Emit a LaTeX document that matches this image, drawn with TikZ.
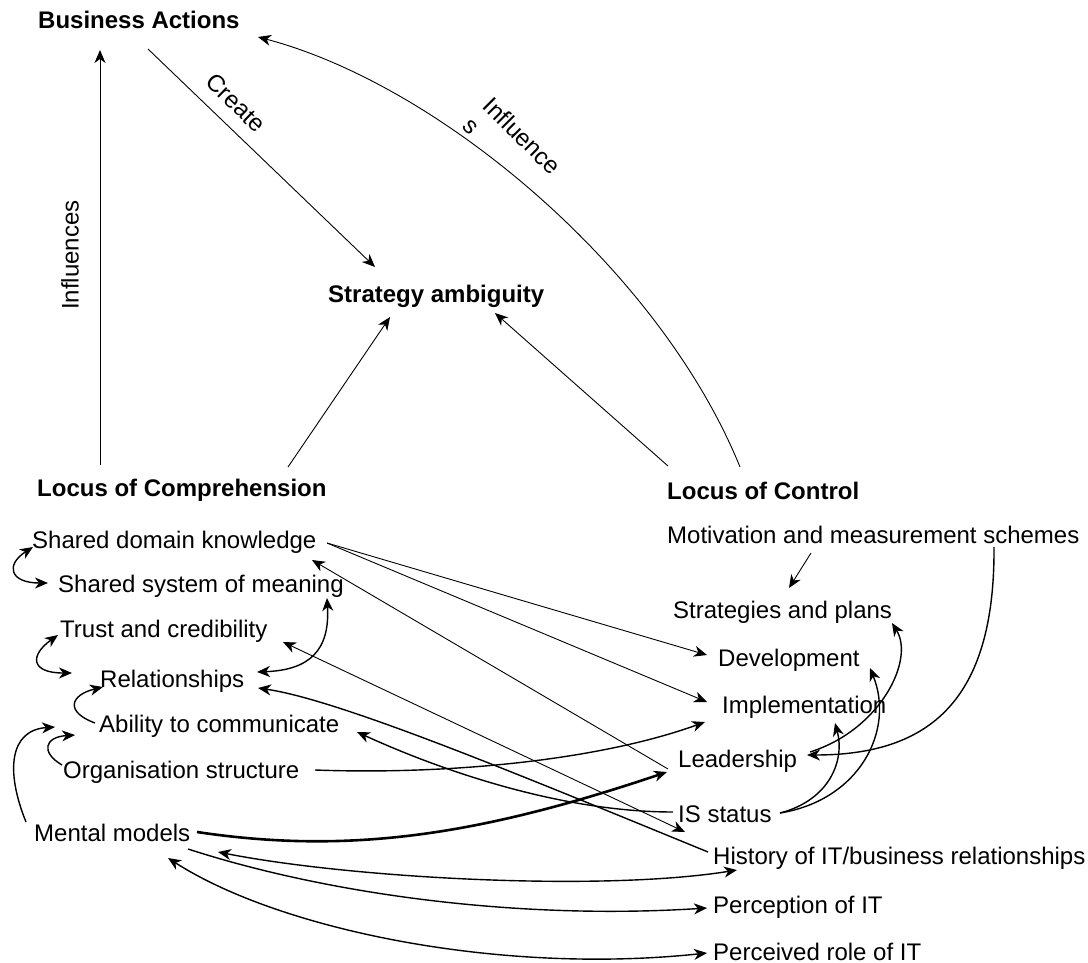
\documentclass[tikz,border=0pt]{standalone}
\usepackage{fontspec}
\setmainfont{Liberation Sans}
\usetikzlibrary{arrows.meta,calc}
\begin{document}
\begin{tikzpicture}[x=1pt,y=-1pt,
  lbl/.style={anchor=base west,inner sep=0pt,font=\fontsize{24}{28.8}\selectfont},
  hd/.style={anchor=base west,inner sep=0pt,font=\fontsize{24}{28.8}\selectfont\bfseries},
  rot/.style={inner sep=0pt,font=\fontsize{24}{28.8}\selectfont},
  arr/.style={-{Stealth[length=13pt,width=11pt,inset=4pt]}},
  darr/.style={{Stealth[length=13pt,width=11pt,inset=4pt]}-{Stealth[length=13pt,width=11pt,inset=4pt]}},
  thinl/.style={line width=0.9pt},
  med/.style={line width=1.4pt},
  heavy/.style={line width=2.6pt}
]
\fill[white] (0,0) rectangle (1088,963);
\useasboundingbox (0,0) rectangle (1088,963);

% nodes
\node[hd] (ba) at (38,29) {Business Actions};
\node[hd] (sa) at (328,302) {Strategy ambiguity};
\node[hd] (lcomp) at (37,496) {Locus of Comprehension};
\node[hd] (lctrl) at (667,499) {Locus of Control};
\node[lbl] (sdk) at (32,548) {Shared domain knowledge};
\node[lbl] (ssm) at (58,592) {Shared system of meaning};
\node[lbl] (trust) at (60,637) {Trust and credibility};
\node[lbl] (rel) at (100,687) {Relationships};
\node[lbl] (abil) at (99,732) {Ability to communicate};
\node[lbl] (org) at (63,778) {Organisation structure};
\node[lbl] (mm) at (34,841) {Mental models};
\node[lbl] (mot) at (667,543) {Motivation and measurement schemes};
\node[lbl] (sp) at (673,618) {Strategies and plans};
\node[lbl] (dev) at (718,666) {Development};
\node[lbl] (impl) at (722,713) {Implementation};
\node[lbl] (lead) at (678,767) {Leadership};
\node[lbl] (is) at (678,822) {IS status};
\node[lbl] (hist) at (713,864) {History of IT/business relationships};
\node[lbl] (perc) at (713,913) {Perception of IT};
\node[lbl] (role) at (713,960) {Perceived role of IT};

% labels
\node[rot,rotate=90] (l1) at (70,255) {Influences};
\node[rot,rotate=-44] (l2) at (236,103) {Create};
\node[rot,rotate=-45,align=left] (l3) at (512,146) {Influence\\s};

% top connectors
\draw[arr,thinl] ($(lcomp.base west)+(63,-31)$) -- ($(ba.base west)+(62,21)$);
\draw[arr,thinl] ($(ba.base west)+(110,20)$) -- ($(sa.base west)+(47,-35)$);
\draw[arr,thinl] ($(lctrl.base west)+(73,-32)$) .. controls (660,270) and (440,85) .. ($(ba.base west)+(220,8)$);
\draw[arr,thinl] ($(lcomp.base west)+(251,-29)$) -- ($(sa.base west)+(62,15)$);
\draw[arr,thinl] ($(lctrl.base west)+(1,-33)$) -- ($(sa.base west)+(167,11)$);

% left loops
\draw[darr,med] ($(sdk.base west)+(1,-1)$) .. controls (5,565) and (10,583) .. ($(ssm.base west)+(-10,-9)$);
\draw[darr,med] ($(trust.base west)+(-2,-2)$) .. controls (30,655) and (30,673) .. ($(rel.base west)+(-28,-14)$);
\draw[arr,med] ($(abil.base west)+(-4,-9)$) .. controls (65,712) and (70,695) .. ($(rel.base west)+(3,0)$);
\draw[arr,med] ($(org.base west)+(-1,-13)$) .. controls (40,752) and (45,737) .. ($(abil.base west)+(-24,3)$);
\draw[arr,med] ($(mm.base west)+(-8,-19)$) .. controls (5,770) and (10,730) .. ($(abil.base west)+(-44,-5)$);
\draw[darr,med] ($(rel.base west)+(157,-15)$) .. controls (310,670) and (330,650) .. ($(ssm.base west)+(269,6)$);

% cross connectors
\draw[arr,thinl] ($(sdk.base west)+(295,-5)$) -- ($(dev.base west)+(-11,-11)$);
\draw[arr,thinl] ($(sdk.base west)+(295,-5)$) -- ($(impl.base west)+(-15,-11)$);
\draw[arr,thinl] ($(lead.base west)+(-10,2)$) -- ($(sdk.base west)+(280,12)$);
\draw[darr,thinl] ($(trust.base west)+(223,5)$) -- ($(hist.base west)+(-28,-32)$);
\draw[arr,med] ($(hist.base west)+(-5,-12)$) .. controls (520,775) and (340,700) .. ($(rel.base west)+(158,1)$);
\draw[arr,med] ($(is.base west)+(-5,-10)$) .. controls (560,812) and (440,770) .. ($(abil.base west)+(258,0)$);
\draw[arr,med] ($(org.base west)+(252,-8)$) .. controls (450,775) and (600,760) .. ($(impl.base west)+(-17,9)$);
\draw[arr,heavy] ($(mm.base west)+(163,-9)$) .. controls (350,855) and (480,835) .. ($(lead.base west)+(-11,5)$);
\draw[darr,med] ($(mm.base west)+(184,11)$) .. controls (350,878) and (600,892) .. ($(hist.base west)+(24,6)$);
\draw[arr,med] ($(mm.base west)+(154,8)$) .. controls (330,895) and (520,920) .. ($(perc.base west)+(-6,-5)$);
\draw[darr,med] ($(mm.base west)+(134,17)$) .. controls (280,930) and (500,975) .. ($(role.base west)+(-6,-7)$);

% right side
\draw[arr,thinl] ($(mot.base west)+(144,10)$) -- ($(sp.base west)+(116,-30)$);
\draw[arr,med] ($(mot.base west)+(327,4)$) .. controls (995,700) and (930,755) .. ($(lead.base west)+(129,-12)$);
\draw[arr,med] ($(lead.base west)+(132,-15)$) .. controls (880,730) and (915,660) .. ($(sp.base west)+(219,5)$);
\draw[arr,med] ($(is.base west)+(102,-9)$) .. controls (860,800) and (895,730) .. ($(dev.base west)+(152,2)$);
\draw[arr,med] ($(is.base west)+(102,-9)$) .. controls (830,800) and (845,760) .. ($(impl.base west)+(113,10)$);
\end{tikzpicture}
\end{document}
